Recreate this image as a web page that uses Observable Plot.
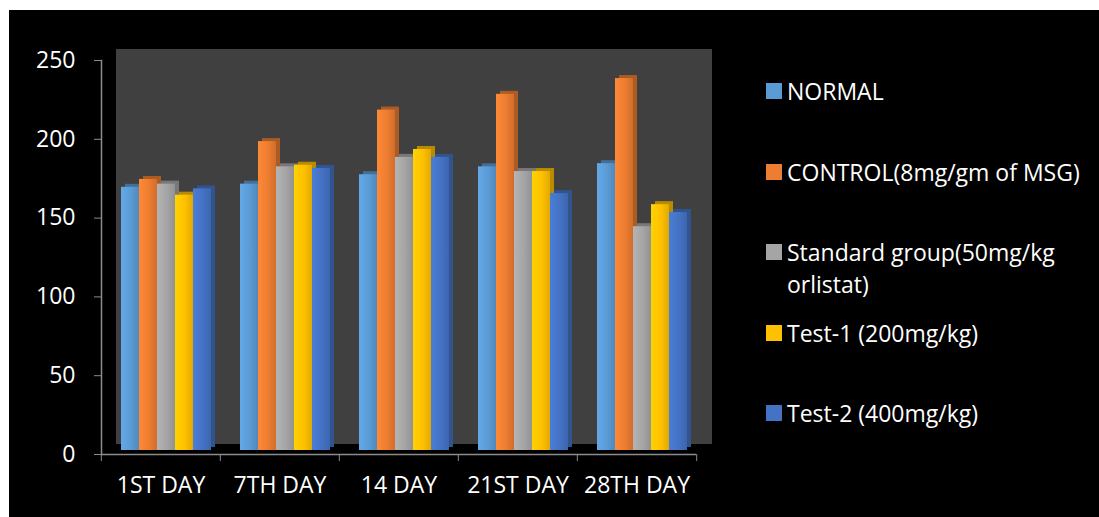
<!DOCTYPE html>
<html>
<head>
<meta charset="utf-8">
<script src="https://cdn.jsdelivr.net/npm/d3@7"></script>
<script src="https://cdn.jsdelivr.net/npm/@observablehq/plot@0.6"></script>
<style>
  html, body { margin: 0; padding: 0; background: #ffffff; }
  #wrap { position: absolute; left: 9px; top: 10px; width: 1090px; height: 507px; background: #000; overflow: hidden; }
  #chart { position: absolute; left: 0; top: 0; }
  .leg { position: absolute; left: 757px; width: 305px; color: #fff; font-family: "Open Sans", sans-serif; font-size: 23px; line-height: 32px; padding-left: 21px; }
  .leg .sw { position: absolute; left: 0; top: 8px; width: 16px; height: 16px; }
</style>
</head>
<body>
<div id="wrap"><div id="chart"></div></div>
<script>
const categories = ["1ST DAY", "7TH DAY", "14 DAY", "21ST DAY", "28TH DAY"];
const groups = ["NORMAL", "CONTROL(8mg/gm of MSG)", "Standard group(50mg/kg orlistat)", "Test-1 (200mg/kg)", "Test-2 (400mg/kg)"];
const normal   = [167, 169, 175, 180, 182];
const control  = [172, 196, 216, 226, 236];
const standard = [169, 180, 186, 177, 142];
const test1    = [162, 181, 191, 177, 156];
const test2    = [166, 179, 186, 163, 151];
const colors = ["#5b9bd5", "#ed7d31", "#a5a5a5", "#ffc000", "#4472c4"];
const yTicks = [0, 50, 100, 150, 200, 250];

const series = [normal, control, standard, test1, test2];
const data = [];
categories.forEach((c, i) => groups.forEach((g, j) => data.push({cat: c, group: g, value: series[j][i]})));
const darker = new Map(groups.map((g, j) => [g, d3.color(colors[j]).darker(0.9).formatHex()]));

const axisGray = "#8c8c8c";
const chart = Plot.plot({
  width: 1090,
  height: 507,
  marginLeft: 91,
  marginRight: 402,
  marginTop: 50,
  marginBottom: 63,
  style: {background: "#000", color: "#fff", fontFamily: "'Open Sans', sans-serif", fontSize: "23px"},
  fx: {domain: categories, padding: 0, label: null, axis: null},
  x: {domain: groups, paddingInner: 0, paddingOuter: 0.72, axis: null},
  y: {domain: [0, 250], label: null, axis: null},
  color: {domain: groups, range: colors},
  marks: [
    Plot.frame({fill: "#404040", stroke: "#404040", dx: 15, dy: -11}),
    Plot.barY(data, {fx: "cat", x: "group", y: "value", fill: d => darker.get(d.group), dx: 9, dy: -7}),
    Plot.barY(data, {fx: "cat", x: "group", y: "value", fill: "group", dx: 5, dy: -4, className: "front-bars"}),
    Plot.ruleY([0], {stroke: axisGray, strokeWidth: 1.5}),
    Plot.frame({anchor: "left", facetAnchor: "left", stroke: axisGray, strokeWidth: 1.5}),
    Plot.axisY({ticks: yTicks, tickSize: 7, tickPadding: 19, stroke: axisGray, fill: "#fff", label: null, fontSize: 23}),
    Plot.axisFx({anchor: "bottom", tickSize: 0, tickPadding: 22, label: null, fill: "#fff", fontSize: 23}),
    Plot.axisFx({anchor: "bottom", tickSize: 7, tickFormat: () => "", dx: -59.7, label: null, stroke: axisGray}),
    Plot.axisFx({anchor: "bottom", ticks: [categories[categories.length - 1]], tickSize: 7, tickFormat: () => "", dx: 59.7, label: null, stroke: axisGray})
  ]
});

// horizontal shading on the front faces, like the original 3D bars
const svg = d3.select(chart.tagName === "svg" ? chart : chart.querySelector("svg"));
const defs = svg.insert("defs", ":first-child");
colors.forEach((c, j) => {
  const g = defs.append("linearGradient").attr("id", "barg" + j).attr("x1", 0).attr("x2", 1).attr("y1", 0).attr("y2", 0);
  g.append("stop").attr("offset", "0%").attr("stop-color", d3.color(c).brighter(0.25).formatHex());
  g.append("stop").attr("offset", "55%").attr("stop-color", c);
  g.append("stop").attr("offset", "100%").attr("stop-color", d3.color(c).darker(0.35).formatHex());
});
const colorIndex = new Map(colors.map((c, j) => [d3.color(c).formatHex(), j]));
svg.selectAll(".front-bars rect").each(function() {
  const f = this.getAttribute("fill") || (this.parentNode && this.parentNode.getAttribute("fill"));
  if (!f) return;
  const col = d3.color(f);
  if (!col) return;
  const j = colorIndex.get(col.formatHex());
  if (j !== undefined) this.setAttribute("fill", "url(#barg" + j + ")");
});

document.getElementById("chart").appendChild(chart);

const wrap = document.getElementById("wrap");
groups.forEach((g, j) => {
  const item = document.createElement("div");
  item.className = "leg";
  item.style.top = (65 + j * 80.5) + "px";
  const sw = document.createElement("span");
  sw.className = "sw";
  sw.style.background = colors[j];
  item.appendChild(sw);
  item.appendChild(document.createTextNode(g));
  wrap.appendChild(item);
});
</script>
</body>
</html>
